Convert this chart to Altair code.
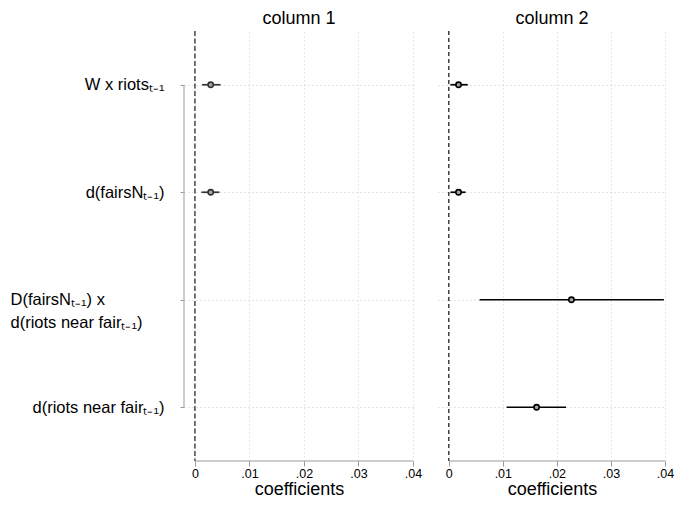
import json
import altair as alt
import pandas as pd

# ---- data ----
row_labels = [
    ["W x riotsₜ₋₁"],
    ["d(fairsNₜ₋₁)"],
    ["D(fairsNₜ₋₁) x", "d(riots near fairₜ₋₁)"],
    ["d(riots near fairₜ₋₁)"],
]
row_ids = [1, 2, 3, 4]

col1_rows = [1, 2]
col1_coef = [0.0029, 0.0029]
col1_lo = [0.0013, 0.0012]
col1_hi = [0.0047, 0.0045]

col2_rows = [1, 2, 3, 4]
col2_coef = [0.0018, 0.0018, 0.0227, 0.01625]
col2_lo = [0.0003, 0.0003, 0.0057, 0.0107]
col2_hi = [0.0035, 0.0031, 0.0398, 0.0217]

x_ticks = [0, 0.01, 0.02, 0.03, 0.04]
panel_titles = ["column 1", "column 2"]

FONT = "Liberation Sans"

xscale = alt.Scale(domain=[-0.002, 0.0402], nice=False, zero=False)
yscale = alt.Scale(domain=[0.5, 4.5], reverse=True, nice=False, zero=False)

label_expr_y = json.dumps(row_labels, ensure_ascii=False) + "[datum.value - 1]"
label_expr_x = "datum.value == 0 ? '0' : replace(format(datum.value, '.2f'), '0.', '.')"

PLOT_H = 430


def panel(rows, coef, lo, hi, title, show_y, width, zero_color, zero_w, zero_dash, ci_color):
    df = pd.DataFrame({"row": rows, "coef": coef, "lo": lo, "hi": hi})
    one = pd.DataFrame({"z": [0]})

    xaxis = alt.Axis(
        values=x_ticks, labelExpr=label_expr_x, title="coefficients",
        domain=False, ticks=True, tickSize=5, tickColor="#999999",
        grid=True, gridColor="#cccccc", gridDash=[1, 3], gridWidth=1,
        labelFontSize=12.5, labelColor="#000000", labelPadding=1,
        titleFontSize=18, titleFontWeight="normal", titleColor="#000000",
        titlePadding=1, labelFont=FONT, titleFont=FONT,
    )
    if show_y:
        yaxis = alt.Axis(
            values=row_ids, labelExpr=label_expr_y, title=None,
            domain=False, ticks=True, tickSize=4, tickColor="#999999",
            grid=True, gridColor="#cccccc", gridDash=[1, 3], gridWidth=1,
            labelFontSize=16.5, labelColor="#000000",
            labelAlign=alt.condition("datum.value == 3", alt.value("left"), alt.value("right")),
            labelPadding=alt.condition("datum.value == 3", alt.value(170), alt.value(16)),
            labelFont=FONT, labelLimit=400, minExtent=176, maxExtent=176,
            labelLineHeight=23,
        )
    else:
        yaxis = alt.Axis(
            values=row_ids, labels=False, title=None, domain=False, ticks=False,
            grid=True, gridColor="#cccccc", gridDash=[1, 3], gridWidth=1,
        )

    base = alt.Chart(df)
    ci = base.mark_rule(color=ci_color, strokeWidth=1.7).encode(
        x=alt.X("lo:Q", scale=xscale, axis=xaxis),
        x2="hi:Q",
        y=alt.Y("row:Q", scale=yscale, axis=yaxis),
    )
    pts = base.mark_point(shape="circle", size=28, filled=False, color=ci_color,
                          fill="#a6a6a6", fillOpacity=1, strokeWidth=1.6, opacity=1).encode(
        x=alt.X("coef:Q", scale=xscale),
        y=alt.Y("row:Q", scale=yscale),
    )
    zero = alt.Chart(one).mark_rule(color=zero_color, strokeDash=zero_dash, strokeWidth=zero_w).encode(
        x=alt.X("z:Q", scale=xscale)
    )
    xline = alt.Chart(one).mark_rule(color="#999999", strokeWidth=1.2).encode(
        x=alt.datum(x_ticks[0]), x2=alt.datum(x_ticks[-1]), y=alt.value(PLOT_H)
    )
    layers = [zero, xline, ci, pts]
    if show_y:
        bracket = alt.Chart(one).mark_rule(color="#bbbbbb", strokeWidth=1.5).encode(
            x=alt.value(0), y=alt.datum(row_ids[0]), y2=alt.datum(row_ids[-1])
        )
        layers.insert(0, bracket)
    return alt.layer(*layers).properties(
        width=width, height=PLOT_H,
        title=alt.TitleParams(title, fontSize=18, font=FONT, fontWeight="normal",
                              color="#000000", offset=2, anchor="middle"),
    )


p1 = panel(col1_rows, col1_coef, col1_lo, col1_hi, panel_titles[0], True, 230,
           "#666666", 1.8, [5, 2.5], "#333333")
p2 = panel(col2_rows, col2_coef, col2_lo, col2_hi, panel_titles[1], False, 228,
           "#000000", 1.1, [4, 3], "#000000")

chart = alt.hconcat(p1, p2, spacing=16).properties(
    padding={"left": 0, "top": 2, "right": 0, "bottom": 0}
).configure_view(stroke=None)

chart.save("out.html", embed_options={"renderer": "svg", "actions": False})
